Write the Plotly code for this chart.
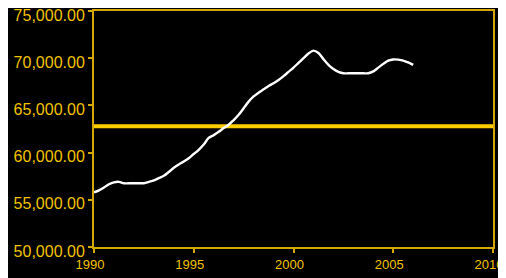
import plotly.graph_objects as go

years = [1990 + 0.25 * i for i in range(65)]
values = [55790, 56000, 56300, 56650, 56850, 56900, 56750, 56750,
          56750, 56750, 56760, 56900, 57050, 57300, 57550, 57950,
          58400, 58750, 59050, 59400, 59850, 60300, 60850, 61550,
          61850, 62200, 62600, 62950, 63450, 64000, 64700, 65400,
          65950, 66350, 66700, 67050, 67350, 67700, 68100, 68550,
          69000, 69500, 70000, 70500, 70800, 70550, 69900, 69300,
          68850, 68550, 68400, 68400, 68400, 68400, 68400, 68400,
          68600, 69000, 69400, 69750, 69870, 69850, 69750, 69550,
          69300]
mean_x = [1990, 2010]
mean_y = [62800, 62800]
x_ticks = [1990, 1995, 2000, 2005, 2010]
y_ticks = [50000, 55000, 60000, 65000, 70000, 75000]

gold = "#F2C200"
axis_col = "#D4A800"

fig = go.Figure()
fig.add_trace(go.Scatter(x=mean_x, y=mean_y, mode="lines",
                         line=dict(color="#FFCC00", width=4), showlegend=False,
                         cliponaxis=False))
fig.add_trace(go.Scatter(x=years, y=values, mode="lines",
                         line=dict(color="white", width=2.4, shape="spline"),
                         showlegend=False))

# page body has an 8px margin, so the figure is 8px smaller and offset by 8px
fig.update_layout(
    width=498, height=270,
    margin=dict(l=86, r=13, t=3, b=31, autoexpand=False),
    paper_bgcolor="black", plot_bgcolor="black",
    font=dict(family="Liberation Sans, Arial, sans-serif", size=14, color=gold),
)
fig.update_xaxes(range=[1990, 2010], tickvals=x_ticks, ticktext=[str(v) for v in x_ticks],
                 showgrid=False, zeroline=False, showline=True, linecolor=axis_col,
                 linewidth=2, mirror=True, ticks="outside", ticklen=4,
                 tickcolor=axis_col, tickwidth=1.5, automargin=False,
                 ticklabeloverflow="allow", ticklabelshift=-4,
                 tickfont=dict(color=gold, size=13))
fig.update_yaxes(range=[50000, 75000], tickvals=y_ticks, tickformat=",.2f",
                 showgrid=False, zeroline=False, showline=True, linecolor=axis_col,
                 linewidth=2, mirror=True, ticks="outside", ticklen=4,
                 tickcolor=axis_col, tickwidth=1.5, automargin=False,
                 ticklabeloverflow="allow", ticklabelshift=4,
                 tickfont=dict(color=gold, size=16))

fig.write_html("out.html")
